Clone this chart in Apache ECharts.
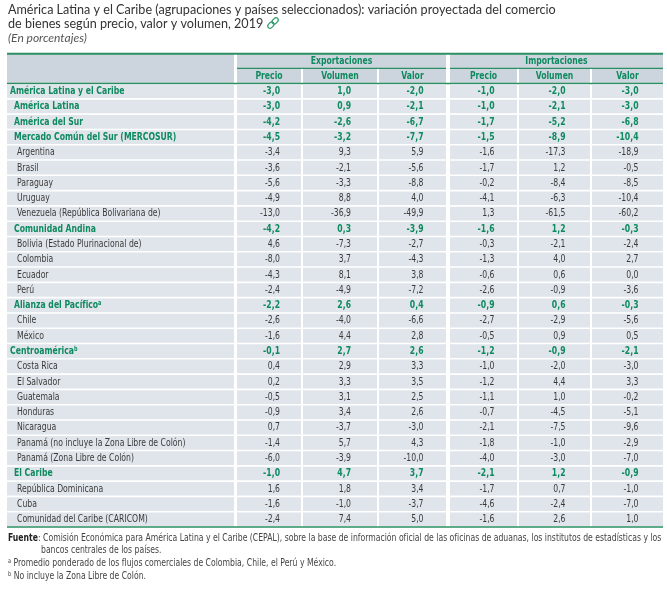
<!DOCTYPE html>
<html lang="es">
<head>
  <meta charset="UTF-8">
  <title>Comercio de bienes 2019</title>
  <script src="https://cdn.jsdelivr.net/npm/echarts@6/dist/echarts.min.js"></script>
</head>
<body style="margin:0;background:#fff">
  <div id="main" style="width:667px;height:590px;"></div>
  <script type="text/javascript">
    // filas de la tabla
    const rowNames = [
      'América Latina y el Caribe', 'América Latina', 'América del Sur', 'Mercado Común del Sur (MERCOSUR)',
      'Argentina', 'Brasil', 'Paraguay', 'Uruguay', 'Venezuela (República Bolivariana de)',
      'Comunidad Andina', 'Bolivia (Estado Plurinacional de)', 'Colombia', 'Ecuador', 'Perú',
      'Alianza del Pacífico', 'Chile', 'México',
      'Centroamérica', 'Costa Rica', 'El Salvador', 'Guatemala', 'Honduras', 'Nicaragua',
      'Panamá (no incluye la Zona Libre de Colón)', 'Panamá (Zona Libre de Colón)',
      'El Caribe', 'República Dominicana', 'Cuba', 'Comunidad del Caribe (CARICOM)'
    ]
    // 0 = agregado principal, 1 = subgrupo, 2 = país
    const rowLevels = [0, 1, 1, 1, 2, 2, 2, 2, 2, 1, 2, 2, 2, 2, 1, 2, 2, 0, 2, 2, 2, 2, 2, 2, 2, 1, 2, 2, 2]
    const rowNotes = ['', '', '', '', '', '', '', '', '', '', '', '', '', '', 'a', '', '', 'b', '', '', '', '', '', '', '', '', '', '', '']

    const groupNames = ['Exportaciones', 'Importaciones']
    const measureNames = ['Precio', 'Volumen', 'Valor']

    const expPrecio = [-3.0, -3.0, -4.2, -4.5, -3.4, -3.6, -5.6, -4.9, -13.0, -4.2, 4.6, -8.0, -4.3, -2.4, -2.2, -2.6, -1.6, -0.1, 0.4, 0.2, -0.5, -0.9, 0.7, -1.4, -6.0, -1.0, 1.6, -1.6, -2.4]
    const expVolumen = [1.0, 0.9, -2.6, -3.2, 9.3, -2.1, -3.3, 8.8, -36.9, 0.3, -7.3, 3.7, 8.1, -4.9, 2.6, -4.0, 4.4, 2.7, 2.9, 3.3, 3.1, 3.4, -3.7, 5.7, -3.9, 4.7, 1.8, -1.0, 7.4]
    const expValor = [-2.0, -2.1, -6.7, -7.7, 5.9, -5.6, -8.8, 4.0, -49.9, -3.9, -2.7, -4.3, 3.8, -7.2, 0.4, -6.6, 2.8, 2.6, 3.3, 3.5, 2.5, 2.6, -3.0, 4.3, -10.0, 3.7, 3.4, -3.7, 5.0]
    const impPrecio = [-1.0, -1.0, -1.7, -1.5, -1.6, -1.7, -0.2, -4.1, 1.3, -1.6, -0.3, -1.3, -0.6, -2.6, -0.9, -2.7, -0.5, -1.2, -1.0, -1.2, -1.1, -0.7, -2.1, -1.8, -4.0, -2.1, -1.7, -4.6, -1.6]
    const impVolumen = [-2.0, -2.1, -5.2, -8.9, -17.3, 1.2, -8.4, -6.3, -61.5, 1.2, -2.1, 4.0, 0.6, -0.9, 0.6, -2.9, 0.9, -0.9, -2.0, 4.4, 1.0, -4.5, -7.5, -1.0, -3.0, 1.2, 0.7, -2.4, 2.6]
    const impValor = [-3.0, -3.0, -6.8, -10.4, -18.9, -0.5, -8.5, -10.4, -60.2, -0.3, -2.4, 2.7, 0.0, -3.6, -0.3, -5.6, 0.5, -2.1, -3.0, 3.3, -0.2, -5.1, -9.6, -2.9, -7.0, -0.9, -1.0, -7.0, 1.0]

    const valueCols = [expPrecio, expVolumen, expValor, impPrecio, impVolumen, impValor]

    // maquetación (unidades del eje x)
    const colEdges = [[0, 227], [230, 294], [296, 370], [372, 439], [443, 510], [512, 583], [585, 656]]
    const groupEdges = [[230, 439], [443, 656]]
    const indent = [3, 7, 10]

    const GREEN = '#0f8a5f'
    const LINE = '#2b8f62'
    const HEAD_BG = '#ccd5dd'
    const ROW_BG = '#e0e5eb'
    const TXT = '#3a3a3a'
    const NARROW = '"Liberation Sans Narrow", "DejaVu Sans Condensed", sans-serif'
    const SQUEEZE = 0.78   // la fuente original es más condensada

    const fmt = v => v.toFixed(1).replace('.', ',')

    const yCats = ['h0', 'h1'].concat(rowNames)
    const cellData = yCats.map((_, i) => [0, i])

    function renderItem(params, api) {
      const i = api.value(1)
      const h = api.size([0, 1])[1]
      const cy = api.coord([0, i])[1]
      const top = cy - h / 2
      const xAt = v => api.coord([v, i])[0]
      const children = []
      const rect = (x0, x1, y, hh, fill) => children.push({
        type: 'rect', shape: { x: xAt(x0), y: y, width: xAt(x1) - xAt(x0), height: hh }, style: { fill: fill }
      })
      const hline = (x0, x1, y, w) => children.push({
        type: 'line', shape: { x1: xAt(x0), y1: y, x2: xAt(x1), y2: y }, style: { stroke: LINE, lineWidth: w }
      })
      const text = (str, x, y, align, bold, color, rich) => children.push({
        type: 'text',
        x: x, y: y, scaleX: SQUEEZE,
        style: {
          text: str, x: 0, y: 0, align: align, verticalAlign: 'middle',
          fontFamily: NARROW, fontSize: 11, fontWeight: bold ? 'bold' : 'normal',
          fill: color, rich: rich
        }
      })

      if (i === 0) {
        rect(colEdges[0][0], colEdges[0][1], top, 2 * h, HEAD_BG)
        groupEdges.forEach((g, k) => {
          rect(g[0], g[1], top, h, HEAD_BG)
          hline(g[0], g[1], top + h, 1.3)
          text(groupNames[k], (xAt(g[0]) + xAt(g[1])) / 2, cy, 'center', true, GREEN)
        })
        hline(0, 656, top + 0.8, 2)
      } else if (i === 1) {
        for (let c = 1; c < colEdges.length; c++) {
          const e = colEdges[c]
          rect(e[0], e[1], top + 0.7, h - 0.7, HEAD_BG)
          text(measureNames[(c - 1) % 3], (xAt(e[0]) + xAt(e[1])) / 2, cy + 0.5, 'center', true, GREEN)
        }
        hline(0, 656, top + h, 1.5)
      } else {
        const r = i - 2
        const lvl = rowLevels[r]
        const bold = lvl < 2
        const color = bold ? GREEN : TXT
        colEdges.forEach(e => rect(e[0], e[1], top + 0.8, h - 1.6, ROW_BG))
        let label = rowNames[r]
        let rich
        if (rowNotes[r]) {
          label = label + '{sup|' + rowNotes[r] + '}'
          rich = { sup: { fontSize: 7, fontWeight: 'bold', fontFamily: NARROW, fill: color, verticalAlign: 'top', lineHeight: 8 } }
        }
        text(label, xAt(colEdges[0][0] + indent[lvl]), cy, 'left', bold, color, rich)
        valueCols.forEach((col, c) => {
          const e = colEdges[c + 1]
          text(fmt(col[r]), (xAt(e[0]) + xAt(e[1])) / 2 + 11, cy, 'right', bold, color)
        })
        if (i === yCats.length - 1) hline(0, 656, top + h, 1.5)
      }
      return { type: 'group', children: children }
    }

    const footStyle = { fontFamily: NARROW, fontSize: 9.8, fill: '#444', verticalAlign: 'middle' }
    const supStyle = { fontSize: 6.5, fontFamily: NARROW, fill: '#444', verticalAlign: 'top', lineHeight: 8 }

    const myChart = echarts.init(document.getElementById('main'))
    myChart.setOption({
      animation: false,
      title: {
        left: 8,
        top: 3,
        padding: 0,
        text: 'América Latina y el Caribe (agrupaciones y países seleccionados): variación proyectada del comercio\nde bienes según precio, valor y volumen, 2019',
        textStyle: { fontFamily: 'Lato', fontSize: 12.6, fontWeight: 'normal', color: '#333', lineHeight: 14 },
        subtext: '(En porcentajes)',
        subtextStyle: { fontFamily: 'Lato', fontSize: 12, fontStyle: 'italic', color: '#555', lineHeight: 14 },
        itemGap: 0
      },
      grid: { left: 7, right: 4, top: 53, bottom: 63 },
      xAxis: { type: 'value', min: 0, max: 656, show: false },
      yAxis: { type: 'category', data: yCats, inverse: true, show: false },
      series: [{
        type: 'custom',
        silent: true,
        clip: false,
        renderItem: renderItem,
        data: cellData
      }],
      graphic: [
        {
          // icono de enlace
          type: 'group', x: 273, y: 23, rotation: -Math.PI / 4,
          children: [
            { type: 'rect', shape: { x: -2.3, y: -6.5, width: 4.6, height: 7, r: 2.3 }, style: { fill: 'none', stroke: '#2f9a69', lineWidth: 1.3 } },
            { type: 'rect', shape: { x: -2.3, y: -0.5, width: 4.6, height: 7, r: 2.3 }, style: { fill: 'none', stroke: '#2f9a69', lineWidth: 1.3 } }
          ]
        },
        {
          type: 'text', x: 8, y: 538, scaleX: 0.875,
          style: Object.assign({
            text: '{b|Fuente}: Comisión Económica para América Latina y el Caribe (CEPAL), sobre la base de información oficial de las oficinas de aduanas, los institutos de estadísticas y los',
            rich: { b: { fontWeight: 'bold', fill: '#222', fontFamily: NARROW, fontSize: 9.8 } }
          }, footStyle)
        },
        {
          type: 'text', x: 41, y: 550, scaleX: 0.875,
          style: Object.assign({ text: 'bancos centrales de los países.' }, footStyle)
        },
        {
          type: 'text', x: 8, y: 563, scaleX: 0.875,
          style: Object.assign({
            text: '{s|a} Promedio ponderado de los flujos comerciales de Colombia, Chile, el Perú y México.',
            rich: { s: supStyle }
          }, footStyle)
        },
        {
          type: 'text', x: 8, y: 576, scaleX: 0.875,
          style: Object.assign({
            text: '{s|b} No incluye la Zona Libre de Colón.',
            rich: { s: supStyle }
          }, footStyle)
        }
      ]
    })
  </script>
</body>
</html>
